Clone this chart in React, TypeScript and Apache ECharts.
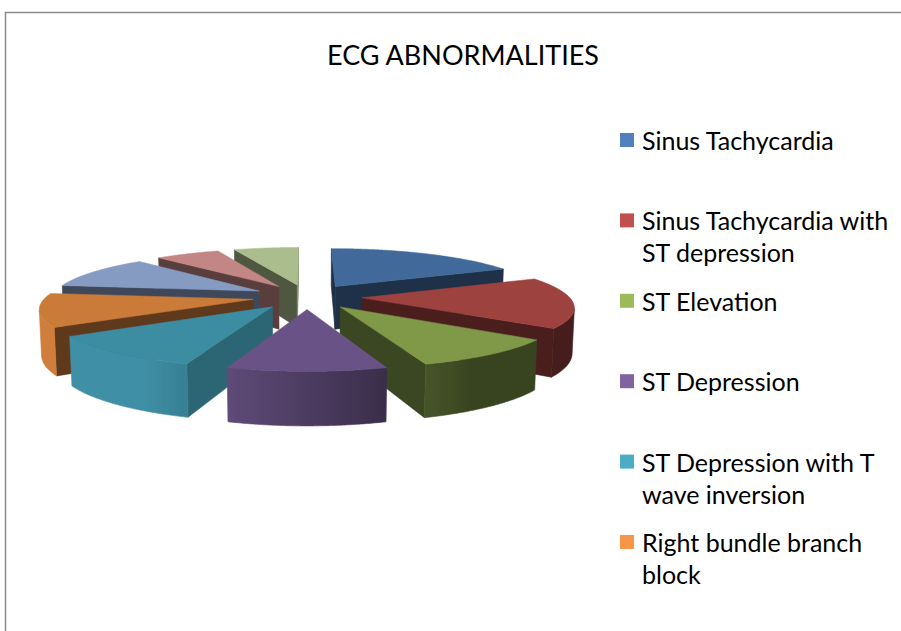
import React, { useEffect, useRef } from "react";
import * as echarts from "echarts";

const chartTitle = "ECG ABNORMALITIES";

const categories = [
  "Sinus Tachycardia",
  "Sinus Tachycardia with ST depression",
  "ST Elevation",
  "ST Depression",
  "ST Depression with T wave inversion",
  "Right bundle branch block",
  "Category 7",
  "Category 8",
  "Category 9",
];

const values = [18, 17, 10, 10, 11, 11, 11, 6, 6];

const sliceColors = [
  "#4F81BD",
  "#C0504D",
  "#9BBB59",
  "#8064A2",
  "#4BACC6",
  "#F79646",
  "#A4BDEC",
  "#ECA3A1",
  "#D0E6AB",
];

// legend as it is visible (the chart's legend box cuts off after six entries)
const legendLabels = [
  "Sinus Tachycardia",
  "Sinus Tachycardia with\nST depression",
  "ST Elevation",
  "ST Depression",
  "ST Depression with T\nwave inversion",
  "Right bundle branch\nblock",
];

// ---- 3D view parameters ----
const CX = 307;
const CY = 296.6;
const SCALE = 207.5;
const SIN_T = 0.2267;
const COS_T = Math.sqrt(1 - SIN_T * SIN_T);
const CAM = 6;
const EXPLODE = 0.263;
const DEPTH = 0.22;
const camPos = [0, CAM * COS_T, CAM * SIN_T];

function project(x: number, y: number, z: number): number[] {
  const d = y * COS_T + z * SIN_T;
  const u = z * COS_T - y * SIN_T;
  const s = CAM / (CAM - d);
  return [CX + SCALE * x * s, CY - SCALE * u * s];
}

function facing(n: number[], p: number[]): boolean {
  return (
    n[0] * (camPos[0] - p[0]) +
      n[1] * (camPos[1] - p[1]) +
      n[2] * (camPos[2] - p[2]) >
    0
  );
}

function shade(hex: string, f: number): string {
  const n = parseInt(hex.slice(1), 16);
  const r = Math.min(255, Math.round(((n >> 16) & 255) * f));
  const g = Math.min(255, Math.round(((n >> 8) & 255) * f));
  const b = Math.min(255, Math.round((n & 255) * f));
  return `rgb(${r},${g},${b})`;
}

// brightness of a curved outer wall by the direction of its normal (deg, clockwise from back)
function wallFactor(deg: number): number {
  return 0.36 + 0.48 * Math.min(1, Math.max(0, (deg - 150) / 60));
}
// brightness of a flat radial wall by the direction of its normal
function radialFactor(deg: number): number {
  return 0.38 + 0.24 * Math.min(1, Math.max(0, (130 - deg) / 25));
}

const total = values.reduce((s, v) => s + v, 0);
const starts: number[] = [];
values.reduce((acc, v, i) => {
  starts[i] = acc;
  return acc + v;
}, 0);
const mids = values.map((v, i) => ((starts[i] + v / 2) / total) * Math.PI * 2);
const order = mids
  .map((m, i) => ({ i, d: -Math.cos(m) }))
  .sort((p, q) => p.d - q.d)
  .map((o) => o.i);
const rankOf: number[] = [];
order.forEach((idx, r) => (rankOf[idx] = r));

function renderSlice(params: any, api: any) {
  const i = params.dataIndex;
  const v = api.value(0);
  const a = (starts[i] / total) * Math.PI * 2;
  const b = ((starts[i] + v) / total) * Math.PI * 2;
  const m = (a + b) / 2;
  const ox = EXPLODE * Math.sin(m);
  const oy = -EXPLODE * Math.cos(m);
  const base = sliceColors[i];
  const rank = rankOf[i];
  const children: any[] = [];

  const steps = Math.max(2, Math.ceil((b - a) / (Math.PI / 360)));
  const angles: number[] = [];
  for (let k = 0; k <= steps; k++) angles.push(a + ((b - a) * k) / steps);

  // radial walls
  const radial = (t: number, sign: number) => {
    const n = [sign * Math.cos(t), sign * Math.sin(t), 0];
    const px = ox + Math.sin(t);
    const py = oy - Math.cos(t);
    const mid = [ox + 0.5 * Math.sin(t), oy - 0.5 * Math.cos(t), -DEPTH / 2];
    if (!facing(n, mid)) return;
    let nd = (Math.atan2(n[0], -n[1]) * 180) / Math.PI;
    if (nd < 0) nd += 360;
    const col = shade(base, radialFactor(nd));
    children.push({
      type: "polygon",
      z2: rank * 10 + 1,
      shape: {
        points: [
          project(ox, oy, 0),
          project(px, py, 0),
          project(px, py, -DEPTH),
          project(ox, oy, -DEPTH),
        ],
      },
      style: { fill: col, stroke: col, lineWidth: 0.6 },
    });
  };
  radial(a, -1);
  radial(b, 1);

  // outer curved wall
  const vis = angles.filter((t) =>
    facing(
      [Math.sin(t), -Math.cos(t), 0],
      [ox + Math.sin(t), oy - Math.cos(t), -DEPTH / 2]
    )
  );
  if (vis.length >= 2) {
    const topPts = vis.map((t) => project(ox + Math.sin(t), oy - Math.cos(t), 0));
    const botPts = vis.map((t) =>
      project(ox + Math.sin(t), oy - Math.cos(t), -DEPTH)
    );
    const x1 = topPts[0][0];
    const x2 = topPts[topPts.length - 1][0];
    const stops = vis.map((t, k) => ({
      offset: Math.min(1, Math.max(0, (topPts[k][0] - x1) / (x2 - x1 || 1))),
      color: shade(base, wallFactor((t * 180) / Math.PI)),
    }));
    const fill = {
      type: "linear",
      x: x1,
      y: 0,
      x2: x2,
      y2: 0,
      global: true,
      colorStops: stops,
    };
    children.push({
      type: "polygon",
      z2: rank * 10 + 1,
      shape: { points: topPts.concat(botPts.reverse()) },
      style: { fill, stroke: fill, lineWidth: 0.6 },
    });
  }

  // top face
  const topFace = [project(ox, oy, 0)].concat(
    angles.map((t) => project(ox + Math.sin(t), oy - Math.cos(t), 0))
  );
  const topCol = shade(base, 0.82);
  children.push({
    type: "polygon",
    z2: rank * 10 + 2,
    shape: { points: topFace },
    style: { fill: topCol, stroke: topCol, lineWidth: 0.5 },
  });

  return { type: "group", children };
}

const legendX = 620;
const legendTop = 140;
const legendStep = 80.4;

export default function App() {
  const ref = useRef<HTMLDivElement>(null);
  useEffect(() => {
    if (!ref.current) return;
    const chart = echarts.init(ref.current, undefined, { renderer: "svg" });
    const legendGraphics: any[] = [];
    legendLabels.forEach((label, i) => {
      const cy = legendTop + legendStep * i;
      legendGraphics.push({
        type: "rect",
        shape: { x: legendX, y: cy - 7, width: 14, height: 14 },
        style: { fill: sliceColors[i] },
      });
      legendGraphics.push({
        type: "text",
        x: legendX + 22,
        y: cy - 16,
        style: {
          text: label,
          fill: "#000",
          fontFamily: "Lato",
          fontSize: 25,
          lineHeight: 32,
          verticalAlign: "top",
          align: "left",
        },
      });
    });
    chart.setOption({
      animation: false,
      backgroundColor: "#ffffff",
      title: {
        text: chartTitle,
        left: 463,
        top: 38,
        textAlign: "center",
        padding: 0,
        textStyle: {
          fontFamily: "Lato",
          fontSize: 27,
          fontWeight: "normal",
          color: "#000",
          lineHeight: 32,
        },
      },
      graphic: [
        {
          type: "rect",
          shape: { x: 5.5, y: 12.5, width: 1200, height: 1200 },
          style: { fill: "none", stroke: "#8a8a8a", lineWidth: 1.5 },
          silent: true,
        },
        ...legendGraphics,
      ],
      series: [
        {
          type: "custom",
          name: "ECG ABNORMALITIES",
          coordinateSystem: "none",
          renderItem: renderSlice,
          data: values.map((v, i) => ({ name: categories[i], value: v })),
        },
      ],
    });
    return () => chart.dispose();
  }, []);
  return (
    <div
      ref={ref}
      style={{
        position: "fixed",
        left: 0,
        top: 0,
        width: 901,
        height: 631,
        background: "#fff",
      }}
    />
  );
}
